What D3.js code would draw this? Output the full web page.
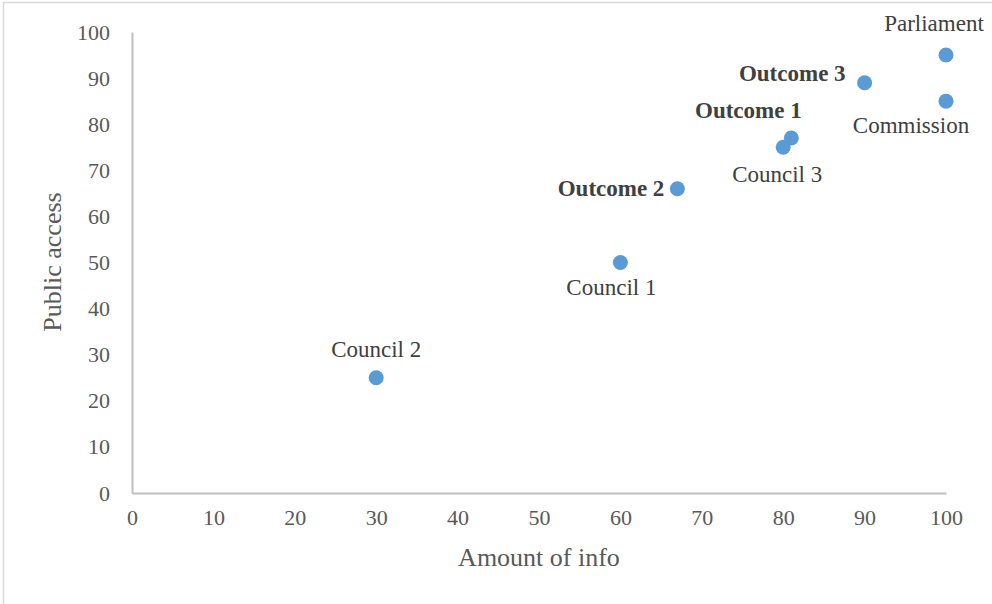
<!DOCTYPE html>
<html>
<head>
<meta charset="utf-8">
<script src="https://cdn.jsdelivr.net/npm/d3@7"></script>
<style>
  html, body { margin: 0; padding: 0; background: #fff; }
  svg { display: block; }
  text { font-family: "Liberation Serif", "Times New Roman", serif; }
</style>
</head>
<body>
<svg id="chart" width="992" height="604"></svg>
<script>
// Point data
const names    = ["Council 2", "Council 1", "Outcome 2", "Council 3", "Outcome 1", "Outcome 3", "Commission", "Parliament"];
const info     = [30, 60, 67, 80, 81, 90, 100, 100];
const access   = [25, 50, 66, 75, 77, 89, 85, 95];
const bold     = [false, false, true, false, true, true, false, false];

const xTicks = [0, 10, 20, 30, 40, 50, 60, 70, 80, 90, 100];
const yTicks = [0, 10, 20, 30, 40, 50, 60, 70, 80, 90, 100];

// label placement relative to each marker (pixels)
const labelOffset = {
  "Council 2":  { dx: 0,   dy: -21, anchor: "middle" },
  "Council 1":  { dx: -9,  dy: 32,  anchor: "middle" },
  "Outcome 2":  { dx: -13, dy: 7,   anchor: "end" },
  "Council 3":  { dx: -6,  dy: 35,  anchor: "middle" },
  "Outcome 1":  { dx: -43, dy: -20, anchor: "middle" },
  "Outcome 3":  { dx: -19, dy: -2,  anchor: "end" },
  "Commission": { dx: -35, dy: 32,  anchor: "middle" },
  "Parliament": { dx: -12, dy: -24, anchor: "middle" }
};

const svg = d3.select("#chart");

// outer frame
svg.append("rect")
  .attr("x", 3.5).attr("y", 2.5)
  .attr("width", 1000).attr("height", 1000)
  .attr("fill", "#fff").attr("stroke", "#d9d9d9").attr("stroke-width", 1.5);

const x = d3.scaleLinear().domain([0, 100]).range([132, 946]);
const y = d3.scaleLinear().domain([0, 100]).range([493, 32]);

// axes
const xAxis = svg.append("g")
  .attr("transform", `translate(0,${y(0)})`)
  .call(d3.axisBottom(x).tickValues(xTicks).tickSize(0).tickPadding(16));
const yAxis = svg.append("g")
  .attr("transform", `translate(${x(0)},0)`)
  .call(d3.axisLeft(y).tickValues(yTicks).tickSize(0).tickPadding(22));

[xAxis, yAxis].forEach(g => {
  g.select(".domain").attr("stroke", "#bfbfbf").attr("stroke-width", 2);
  g.selectAll("text")
    .attr("fill", "#595959")
    .style("font-family", '"Liberation Serif", "Times New Roman", serif')
    .style("font-size", "22px");
});

// axis titles
svg.append("text")
  .attr("x", 539).attr("y", 566)
  .attr("text-anchor", "middle")
  .attr("fill", "#595959")
  .style("font-size", "26px")
  .text("Amount of info");

svg.append("text")
  .attr("transform", "translate(61,262) rotate(-90)")
  .attr("text-anchor", "middle")
  .attr("fill", "#595959")
  .style("font-size", "26px")
  .text("Public access");

const pts = names.map((n, i) => ({ name: n, x: info[i], y: access[i], bold: bold[i] }));

// markers
svg.append("g").selectAll("circle")
  .data(pts).join("circle")
  .attr("cx", d => x(d.x))
  .attr("cy", d => y(d.y))
  .attr("r", 7.5)
  .attr("fill", "#5b9bd5");

// data labels
svg.append("g").selectAll("text")
  .data(pts).join("text")
  .attr("x", d => x(d.x) + labelOffset[d.name].dx)
  .attr("y", d => y(d.y) + labelOffset[d.name].dy)
  .attr("text-anchor", d => labelOffset[d.name].anchor)
  .attr("fill", "#404040")
  .style("font-size", "23px")
  .style("font-weight", d => d.bold ? "bold" : "normal")
  .text(d => d.name);
</script>
</body>
</html>
